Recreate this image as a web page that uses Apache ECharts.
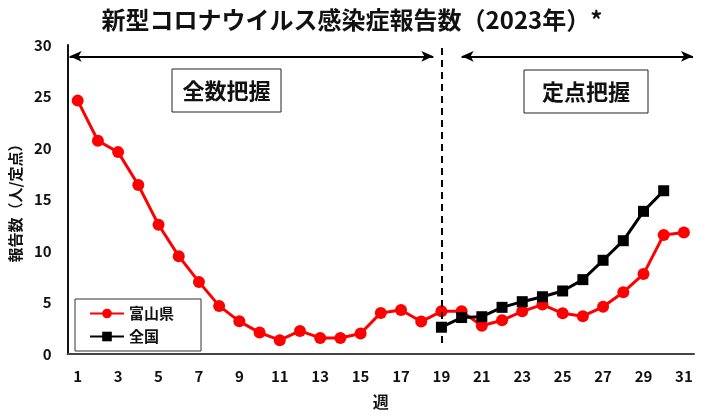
<!DOCTYPE html>
<html>
<head>
<meta charset="utf-8">
<script src="https://cdn.jsdelivr.net/npm/echarts@6/dist/echarts.min.js"></script>
<style>
html,body{margin:0;padding:0;background:#fff;}
#main{width:704px;height:415px;}
</style>
</head>
<body>
<div id="main"></div>
<script>
var weeks = [];
for (var i = 1; i <= 31; i++) { weeks.push(String(i)); }
var toyama = [24.6,20.7,19.6,16.4,12.55,9.5,7.0,4.67,3.17,2.08,1.34,2.24,1.56,1.56,1.99,3.99,4.27,3.15,4.14,4.14,2.74,3.27,4.14,4.8,3.95,3.67,4.58,6.0,7.76,11.56,11.8];
var zenkoku = [null,null,null,null,null,null,null,null,null,null,null,null,null,null,null,null,null,null,2.6,3.54,3.62,4.53,5.08,5.56,6.12,7.22,9.1,11.0,13.85,15.85,null];

var font = '"Noto Sans CJK JP", "Noto Sans", sans-serif';
var myChart = echarts.init(document.getElementById('main'));

var option = {
    animation: false,
    backgroundColor: '#fff',
    textStyle: { fontFamily: font },
    title: {
        text: '新型コロナウイルス感染症報告数（2023年）*',
        left: 'center',
        top: 3,
        textStyle: { fontFamily: font, fontSize: 24, fontWeight: 'bold', color: '#111' }
    },
    grid: { left: 64, right: 10, top: 45, bottom: 51 },
    legend: {
        orient: 'vertical',
        left: 75,
        top: 299,
        padding: [7, 27, 7, 14],
        itemGap: 8,
        itemWidth: 34,
        itemHeight: 12,
        borderColor: '#333',
        borderWidth: 1,
        textStyle: { fontFamily: font, fontSize: 15, fontWeight: 'bold', color: '#111' },
        data: ['富山県', '全国']
    },
    xAxis: [
        {
            type: 'category',
            data: weeks,
            boundaryGap: true,
            name: '週',
            nameLocation: 'middle',
            nameGap: 40,
            nameTextStyle: { fontFamily: font, fontSize: 16, fontWeight: 'bold', color: '#111' },
            axisLine: { lineStyle: { color: '#444', width: 2 } },
            axisTick: { show: false },
            axisLabel: { interval: 1, margin: 15, fontFamily: font, fontSize: 15, fontWeight: 'bold', color: '#111' }
        },
        {
            type: 'value',
            min: 0.5,
            max: 31.5,
            show: false
        }
    ],
    yAxis: {
        type: 'value',
        min: 0,
        max: 30,
        interval: 5,
        name: '報告数（人/定点）',
        nameLocation: 'middle',
        nameGap: 40,
        nameTextStyle: { fontFamily: font, fontSize: 15, fontWeight: 'bold', color: '#111' },
        axisLine: { show: true, lineStyle: { color: '#111', width: 2 } },
        axisTick: { show: false },
        splitLine: { show: false },
        axisLabel: { margin: 16, fontFamily: font, fontSize: 15, fontWeight: 'bold', color: '#111' }
    },
    series: [
        {
            name: '富山県',
            type: 'line',
            data: toyama,
            symbol: 'circle',
            symbolSize: 12,
            lineStyle: { color: '#ff0000', width: 3 },
            itemStyle: { color: '#ff0000' },
            z: 3
        },
        {
            name: '全国',
            type: 'line',
            data: zenkoku,
            symbol: 'rect',
            symbolSize: 11,
            lineStyle: { color: '#000', width: 3 },
            itemStyle: { color: '#000' },
            z: 4
        },
        {
            name: 'annot',
            type: 'scatter',
            xAxisIndex: 1,
            data: [],
            silent: true,
            markLine: {
                silent: true,
                label: { show: false },
                animation: false,
                data: [
                    [
                        { coord: [19, 29.7], symbol: 'none', lineStyle: { type: [7, 5], color: '#000', width: 2 } },
                        { coord: [19, 0.93], symbol: 'none' }
                    ],
                    [
                        { coord: [0.6, 28.9], symbol: 'arrow', symbolSize: [8, 12], lineStyle: { type: 'solid', color: '#000', width: 2 } },
                        { coord: [18.6, 28.9], symbol: 'arrow', symbolSize: [8, 12] }
                    ],
                    [
                        { coord: [20.0, 28.9], symbol: 'arrow', symbolSize: [8, 12], lineStyle: { type: 'solid', color: '#000', width: 2 } },
                        { coord: [31.45, 28.9], symbol: 'arrow', symbolSize: [8, 12] }
                    ]
                ]
            }
        }
    ],
    graphic: [
        {
            type: 'rect',
            shape: { x: 172, y: 69, width: 109, height: 43 },
            style: { fill: '#fff', stroke: '#222', lineWidth: 1 }
        },
        {
            type: 'text',
            x: 226.5, y: 90.5,
            style: { text: '全数把握', font: 'bold 22px ' + font, fill: '#111', align: 'center', verticalAlign: 'middle' }
        },
        {
            type: 'rect',
            shape: { x: 524, y: 70, width: 124, height: 43 },
            style: { fill: '#fff', stroke: '#222', lineWidth: 1 }
        },
        {
            type: 'text',
            x: 586, y: 91.5,
            style: { text: '定点把握', font: 'bold 22px ' + font, fill: '#111', align: 'center', verticalAlign: 'middle' }
        }
    ]
};
myChart.setOption(option);
</script>
</body>
</html>
